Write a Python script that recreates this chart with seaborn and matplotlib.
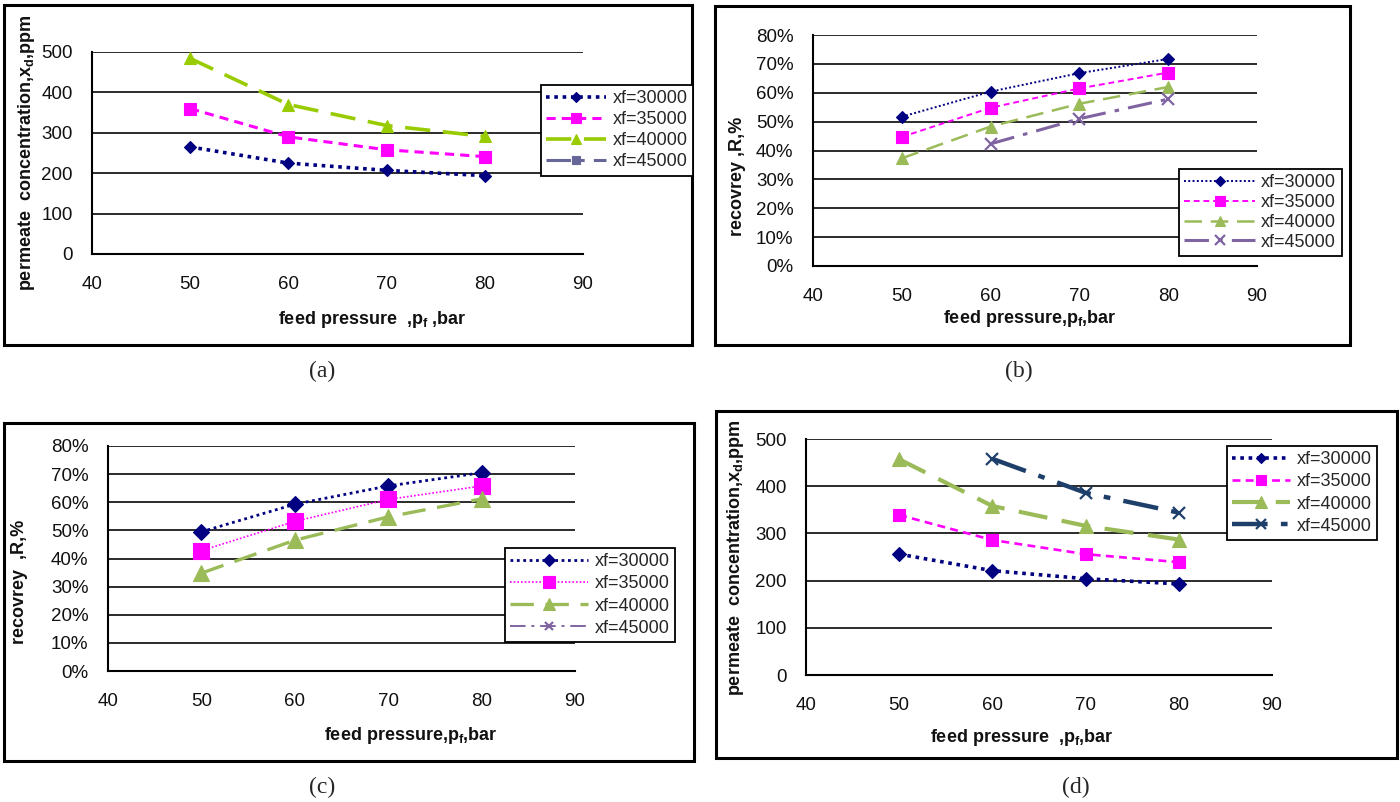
import matplotlib
matplotlib.use("Agg")
import numpy as np
import pandas as pd
import matplotlib.pyplot as plt
from matplotlib.lines import Line2D
from matplotlib.patches import Rectangle
from matplotlib.ticker import FuncFormatter
from matplotlib import font_manager
import seaborn as sns

# ---------------------------------------------------------------- data
pressure = [50, 60, 70, 80]
feed_labels = ["xf=30000", "xf=35000", "xf=40000", "xf=45000"]
x_ticks = [40, 50, 60, 70, 80, 90]
ppm_ticks = [0, 100, 200, 300, 400, 500]
pct_ticks = [0, 10, 20, 30, 40, 50, 60, 70, 80]

# (a) permeate concentration, ppm
perm_a_30000 = [265, 225, 207, 194]
perm_a_35000 = [360, 290, 258, 241]
perm_a_40000 = [484, 370, 318, 291]
perm_a_45000 = [None, None, None, None]

# (b) recovery, %
rec_b_30000 = [51.7, 60.4, 66.8, 71.7]
rec_b_35000 = [44.7, 54.8, 61.5, 67.0]
rec_b_40000 = [37.3, 48.3, 56.2, 62.0]
rec_b_45000 = [None, 42.3, 51.0, 57.8]

# (c) recovery, %
rec_c_30000 = [49.5, 59.3, 65.8, 70.5]
rec_c_35000 = [42.8, 53.2, 61.0, 65.8]
rec_c_40000 = [34.8, 46.5, 54.8, 61.2]
rec_c_45000 = [None, None, None, None]

# (d) permeate concentration, ppm
perm_d_30000 = [256, 221, 204, 193]
perm_d_35000 = [339, 286, 256, 239]
perm_d_40000 = [457, 358, 316, 287]
perm_d_45000 = [None, 458, 386, 344]

# ---------------------------------------------------------------- styling
sns.set_style("white")
plt.rcParams["font.family"] = ["Liberation Sans", "DejaVu Sans"]
plt.rcParams["mathtext.fontset"] = "custom"
plt.rcParams["mathtext.rm"] = "Liberation Sans"
plt.rcParams["mathtext.bf"] = "Liberation Sans:bold"

# condensed face for the tick numbers when it is available
_names = {f.name for f in font_manager.fontManager.ttflist}
TICK_FAMILY = "Liberation Sans Narrow" if "Liberation Sans Narrow" in _names else "Liberation Sans"
TICK_SIZE = 15 if TICK_FAMILY == "Liberation Sans Narrow" else 13.5

NAVY = "#000080"
MAGENTA = "#FF00FF"
LIME = "#99CC00"
OLIVE = "#9BBB59"
PURPLE = "#8064A2"
SLATE = "#666699"
DARKBLUE = "#1F3F6B"

DOT = (0, (1, 1.3))
FINE_DOT = (0, (1, 1.2))
DASH = (0, (3, 2))
LONG = (0, (7, 3.5))
DASHDOT = (0, (8, 3, 1.5, 3))

# per-series style: colour, linestyle, linewidth, marker, markersize
heavy_styles = [
    (NAVY, DOT, 2.6, "D", 6.5),
    (MAGENTA, DASH, 2.2, "s", 9),
    (LIME, LONG, 2.6, "^", 9),
    (SLATE, DASHDOT, 2.2, "s", 7),
]
light_styles = [
    (NAVY, FINE_DOT, 1.4, "D", 6.5),
    (MAGENTA, DASH, 1.4, "s", 9),
    (OLIVE, LONG, 1.8, "^", 9),
    (PURPLE, DASHDOT, 2.2, "x", 9),
]
light_styles_c = [
    (NAVY, DOT, 2.0, "D", 8),
    (MAGENTA, FINE_DOT, 1.2, "s", 11),
    (OLIVE, LONG, 2.4, "^", 11),
    (PURPLE, DASHDOT, 1.4, "x", 7),
]
d_styles = [
    (NAVY, DOT, 2.6, "D", 7),
    (MAGENTA, DASH, 1.9, "s", 9),
    (OLIVE, LONG, 3.0, "^", 10),
    (DARKBLUE, DASHDOT, 3.2, "x", 9),
]

W, H = 1400, 802
fig = plt.figure(figsize=(W / 100, H / 100), dpi=100)


def fx(px):
    return px / W


def fy(py):
    return 1 - py / H


def frame(x0, y0, x1, y1):
    fig.add_artist(Rectangle((fx(x0), fy(y1)), fx(x1 - x0), (y1 - y0) / H,
                             transform=fig.transFigure, fill=False,
                             edgecolor="black", linewidth=2.2, zorder=0))


def panel(box, series, styles, ticks, percent, legend_at, legend_fit,
          xlabel, xlabel_pos, ylabel, ylabel_pos, letter, letter_pos):
    x0, y0, x1, y1 = box
    ax = fig.add_axes([fx(x0), fy(y1), fx(x1 - x0), (y1 - y0) / H])
    handles = []
    for vals, (c, ls, lw, mk, ms), lab in zip(series, styles, feed_labels):
        df = pd.DataFrame({"p": pressure, "v": vals}).dropna()
        mew = 1.6 if mk == "x" else 0.8
        if len(df):
            sns.lineplot(data=df, x="p", y="v", ax=ax, color=c, linestyle=ls,
                         linewidth=lw, marker=mk, markersize=ms,
                         markeredgecolor=c, markerfacecolor=c,
                         markeredgewidth=mew, legend=False, zorder=3)
        handles.append(Line2D([], [], color=c, linestyle=ls, linewidth=lw,
                              marker=mk, markersize=ms * 0.8,
                              markeredgecolor=c, markerfacecolor=c,
                              markeredgewidth=mew))
    ax.set_xlim(40, 90)
    ax.set_ylim(ticks[0], ticks[-1])
    ax.set_xticks(x_ticks)
    ax.set_yticks(ticks)
    if percent:
        ax.yaxis.set_major_formatter(FuncFormatter(lambda v, _: f"{v:.0f}%"))
    ax.set_xlabel("")
    ax.set_ylabel("")
    ax.yaxis.grid(True, color="#1a1a1a", linewidth=1.3)
    ax.xaxis.grid(False)
    ax.set_axisbelow(True)
    for s in ("top", "right"):
        ax.spines[s].set_visible(False)
    for s in ("left", "bottom"):
        ax.spines[s].set_color("black")
        ax.spines[s].set_linewidth(1.5)
    ax.tick_params(axis="both", direction="out", length=6, width=1.3,
                   color="black", labelcolor="#111111")
    ax.tick_params(axis="x", pad=10)
    ax.tick_params(axis="y", pad=8)
    for t in ax.get_xticklabels() + ax.get_yticklabels():
        t.set_fontfamily(TICK_FAMILY)
        t.set_fontsize(TICK_SIZE)
    ax.patch.set_alpha(0)

    handle_len, row_gap = legend_fit
    leg = ax.legend(handles, feed_labels, loc="upper left",
                    bbox_to_anchor=(fx(legend_at[0]), fy(legend_at[1])),
                    bbox_transform=fig.transFigure, fontsize=13,
                    frameon=True, fancybox=False, framealpha=1,
                    edgecolor="black", borderpad=0.3, labelspacing=row_gap,
                    handlelength=handle_len, handletextpad=0.35,
                    borderaxespad=0)
    leg.get_frame().set_linewidth(1.3)

    fig.text(fx(xlabel_pos[0]), fy(xlabel_pos[1]), xlabel, ha="center",
             va="center", fontsize=13, fontweight="bold", color="#111111")
    fig.text(fx(ylabel_pos[0]), fy(ylabel_pos[1]), ylabel, ha="center",
             va="center", rotation=90, fontsize=13, fontweight="bold",
             color="#111111")
    fig.text(fx(letter_pos[0]), fy(letter_pos[1]), letter, ha="center",
             va="center", fontsize=17, family="Liberation Serif")
    return ax


frame(4, 5, 692, 345)
frame(715, 6, 1350, 345)
frame(4, 423, 694, 761)
frame(716, 411, 1397, 758)

panel((92, 52, 583, 254),
      [perm_a_30000, perm_a_35000, perm_a_40000, perm_a_45000],
      heavy_styles, ppm_ticks, False, (541, 85), (3.3, 0.22),
      r"feed pressure  ,p$_\mathregular{f}$ ,bar", (372, 320),
      r"permeate  concentration,x$_\mathregular{d}$,ppm", (27, 153),
      "(a)", (322, 371))

panel((813, 35, 1257, 266),
      [rec_b_30000, rec_b_35000, rec_b_40000, rec_b_45000],
      light_styles, pct_ticks, True, (1179, 169), (3.9, 0.15),
      r"feed pressure,p$_\mathregular{f}$,bar", (1030, 318),
      "recovrey ,R,%", (738, 176),
      "(b)", (1019, 371))

panel((108, 446, 575, 671),
      [rec_c_30000, rec_c_35000, rec_c_40000, rec_c_45000],
      light_styles_c, pct_ticks, True, (505, 548), (4.3, 0.28),
      r"feed pressure,p$_\mathregular{f}$,bar", (411, 735),
      "recovrey  ,R,%", (20, 582),
      "(c)", (322, 787))

panel((806, 439, 1272, 675),
      [perm_d_30000, perm_d_35000, perm_d_40000, perm_d_45000],
      d_styles, ppm_ticks, False, (1227, 446), (3.2, 0.28),
      r"feed pressure  ,p$_\mathregular{f}$,bar", (1022, 737),
      r"permeate  concentration,x$_\mathregular{d}$,ppm", (736, 558),
      "(d)", (1076, 787))

fig.savefig("out.png", dpi=100, facecolor="white")
